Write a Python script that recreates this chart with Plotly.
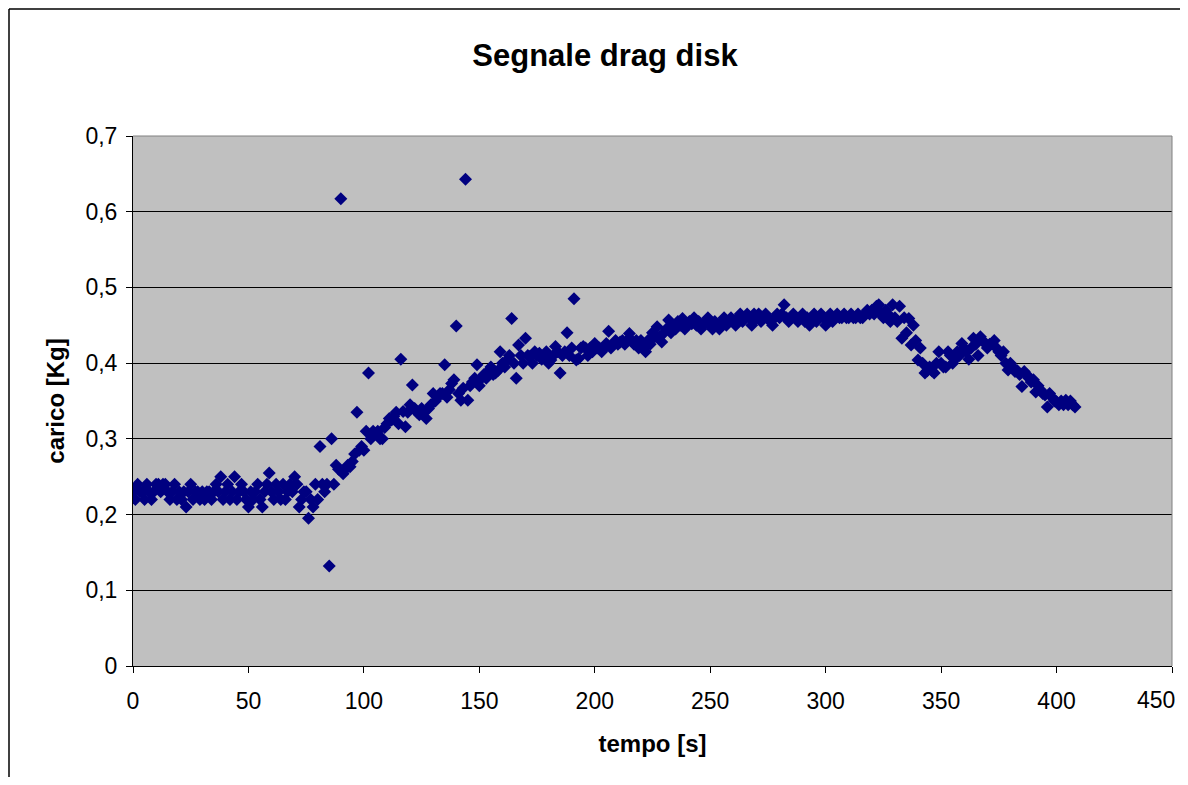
import plotly.graph_objects as go

# Sampling times (s) and load values (Kg), one reading per second
tempo = list(range(0, 409))
carico = [
    0.23, 0.22, 0.24, 0.23, 0.23, 0.22, 0.24, 0.23, 0.22, 0.23,
    0.24, 0.24, 0.23, 0.24, 0.24, 0.23, 0.22, 0.23, 0.24, 0.22,
    0.23, 0.22, 0.23, 0.21, 0.23, 0.24, 0.22, 0.23, 0.23, 0.22,
    0.23, 0.22, 0.23, 0.23, 0.22, 0.23, 0.24, 0.23, 0.25, 0.22,
    0.23, 0.24, 0.22, 0.23, 0.25, 0.22, 0.23, 0.24, 0.23, 0.22,
    0.21, 0.23, 0.22, 0.23, 0.24, 0.22, 0.21, 0.23, 0.24, 0.255,
    0.23, 0.22, 0.24, 0.23, 0.22, 0.24, 0.22, 0.23, 0.24, 0.23,
    0.25, 0.24, 0.21, 0.22, 0.23, 0.23, 0.195, 0.22, 0.21, 0.24,
    0.22, 0.29, 0.24, 0.23, 0.24, 0.132, 0.30, 0.24, 0.265, 0.26,
    0.617, 0.254, 0.26, 0.265, 0.263, 0.27, 0.28, 0.335, 0.285, 0.29,
    0.285, 0.31, 0.387, 0.30, 0.31, 0.307, 0.31, 0.30, 0.30, 0.315,
    0.32, 0.327, 0.325, 0.33, 0.335, 0.32, 0.405, 0.336, 0.316, 0.335,
    0.345, 0.371, 0.34, 0.335, 0.332, 0.34, 0.335, 0.327, 0.34, 0.345,
    0.36, 0.35, 0.355, 0.36, 0.36, 0.398, 0.355, 0.365, 0.373, 0.378,
    0.449, 0.36, 0.351, 0.367, 0.643, 0.351, 0.37, 0.375, 0.38, 0.398,
    0.37, 0.38, 0.385, 0.38, 0.39, 0.395, 0.385, 0.387, 0.39, 0.415,
    0.40, 0.395, 0.404, 0.41, 0.459, 0.40, 0.38, 0.424, 0.41, 0.40,
    0.433, 0.41, 0.409, 0.40, 0.415, 0.41, 0.413, 0.405, 0.41, 0.415,
    0.40, 0.404, 0.41, 0.422, 0.415, 0.387, 0.41, 0.415, 0.44, 0.41,
    0.42, 0.485, 0.404, 0.406, 0.42, 0.422, 0.42, 0.41, 0.42, 0.415,
    0.426, 0.42, 0.42, 0.415, 0.42, 0.426, 0.442, 0.42, 0.425, 0.43,
    0.425, 0.428, 0.43, 0.425, 0.43, 0.439, 0.43, 0.425, 0.43, 0.42,
    0.43, 0.42, 0.415, 0.43, 0.425, 0.44, 0.435, 0.448, 0.435, 0.428,
    0.44, 0.445, 0.457, 0.44, 0.45, 0.445, 0.455, 0.45, 0.459, 0.445,
    0.45, 0.455, 0.452, 0.46, 0.45, 0.455, 0.445, 0.45, 0.455, 0.46,
    0.45, 0.445, 0.455, 0.45, 0.445, 0.455, 0.46, 0.45, 0.455, 0.46,
    0.455, 0.45, 0.46, 0.465, 0.455, 0.46, 0.465, 0.46, 0.45, 0.465,
    0.46, 0.465, 0.455, 0.46, 0.465, 0.46, 0.455, 0.45, 0.46, 0.465,
    0.46, 0.465, 0.477, 0.46, 0.455, 0.46, 0.465, 0.46, 0.455, 0.46,
    0.465, 0.455, 0.46, 0.45, 0.46, 0.465, 0.455, 0.46, 0.465, 0.46,
    0.45, 0.46, 0.465, 0.455, 0.46, 0.465, 0.46, 0.46, 0.465, 0.46,
    0.46, 0.465, 0.46, 0.46, 0.465, 0.46, 0.46, 0.465, 0.47, 0.465,
    0.47, 0.465, 0.475, 0.477, 0.465, 0.46, 0.47, 0.465, 0.455, 0.477,
    0.46, 0.455, 0.475, 0.433, 0.46, 0.44, 0.459, 0.424, 0.45, 0.43,
    0.404, 0.42, 0.40, 0.387, 0.39, 0.395, 0.39, 0.387, 0.40, 0.415,
    0.40, 0.395, 0.395, 0.415, 0.41, 0.40, 0.405, 0.415, 0.41, 0.426,
    0.42, 0.415, 0.405, 0.42, 0.433, 0.425, 0.41, 0.435, 0.43, 0.426,
    0.42, 0.425, 0.426, 0.43, 0.42, 0.415, 0.41, 0.415, 0.40, 0.391,
    0.40, 0.395, 0.389, 0.39, 0.385, 0.369, 0.389, 0.385, 0.38, 0.375,
    0.378, 0.362, 0.37, 0.365, 0.36, 0.358, 0.342, 0.36, 0.355, 0.35,
    0.349, 0.345, 0.35, 0.345, 0.351, 0.345, 0.35, 0.345, 0.342,
]

x_ticks = [0, 50, 100, 150, 200, 250, 300, 350, 400, 450]
x_labels = ["0", "50", "100", "150", "200", "250", "300", "350", "400", "450"]
y_ticks = [0, 0.1, 0.2, 0.3, 0.4, 0.5, 0.6, 0.7]
y_labels = ["0", "0,1", "0,2", "0,3", "0,4", "0,5", "0,6", "0,7"]

FONT = "Liberation Sans, Arial, sans-serif"

W, H = 1180, 769          # page adds an 8px body margin on each side
L, R, T, B = 125, 16, 128, 111
PW, PH = W - L - R, H - T - B

fig = go.Figure()
fig.add_trace(go.Scatter(
    x=tempo, y=carico, mode="markers",
    marker=dict(symbol="diamond", size=10, color="#000080", line=dict(width=0)),
    showlegend=False,
))

# last x tick label sits at the right edge: drawn as an annotation so it stays visible
fig.add_annotation(text=x_labels[-1], x=1 + 5 / PW, xref="paper", xanchor="right",
                   y=0, yref="paper", yanchor="middle", yshift=-34, showarrow=False,
                   font=dict(family=FONT, size=23, color="black"))

fig.update_layout(
    width=W, height=H,
    margin=dict(l=L, r=R, t=T, b=B, autoexpand=False),
    paper_bgcolor="white",
    plot_bgcolor="#C0C0C0",
    font=dict(family=FONT, size=23, color="black"),
    title=dict(text="<b>Segnale drag disk</b>", x=597 / W, xanchor="center",
               y=1 - 47 / H, yanchor="middle", xref="container", yref="container",
               font=dict(family=FONT, size=31, color="black")),
    xaxis=dict(range=[0, 450], tickvals=x_ticks, ticktext=x_labels[:-1] + [""],
               ticks="outside", ticklen=6,
               tickcolor="black", showline=True, linecolor="black", linewidth=1,
               showgrid=False, zeroline=False, ticklabelstandoff=8,
               automargin=False,
               title=dict(text="<b>tempo [s]</b>", standoff=22,
                          font=dict(family=FONT, size=24))),
    yaxis=dict(range=[0, 0.7], tickvals=y_ticks, ticktext=y_labels, ticks="outside",
               ticklen=6, tickcolor="black", showline=True, linecolor="black",
               linewidth=1, showgrid=True, gridcolor="black", gridwidth=1,
               zeroline=False, ticklabelstandoff=4, automargin=False,
               title=dict(text="<b>carico [Kg]</b>", standoff=14,
                          font=dict(family=FONT, size=24))),
    shapes=[
        # plot area border (gray) on top and right
        dict(type="line", xref="paper", yref="paper", x0=0, x1=1, y0=1, y1=1,
             line=dict(color="#808080", width=1)),
        dict(type="line", xref="paper", yref="paper", x0=1, x1=1, y0=0, y1=1,
             line=dict(color="#808080", width=1)),
        # chart area frame (left and top)
        dict(type="line", xref="paper", yref="paper",
             x0=(1 - L) / PW, x1=(1 - L) / PW,
             y0=(H - B - 1) / PH, y1=-(B + 10) / PH,
             line=dict(color="black", width=1.5)),
        dict(type="line", xref="paper", yref="paper",
             x0=(1 - L) / PW, x1=(W + 10 - L) / PW,
             y0=(H - B - 1) / PH, y1=(H - B - 1) / PH,
             line=dict(color="black", width=1.5)),
    ],
)

fig.write_html("out.html")
